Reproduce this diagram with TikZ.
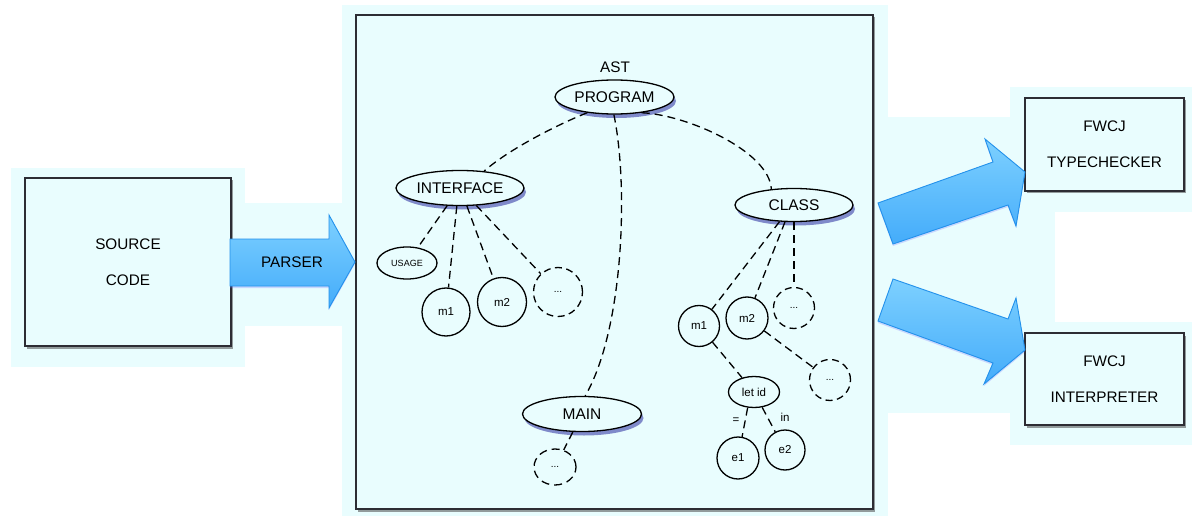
\documentclass[tikz,border=0pt]{standalone}
\usepackage{fontspec}
\setmainfont{Liberation Sans}
\usetikzlibrary{shapes.geometric,shadows}
\definecolor{bgc}{RGB}{233,253,254}
\definecolor{arrowtop}{RGB}{125,208,255}
\definecolor{arrowbot}{RGB}{68,172,250}
\definecolor{arrowedge}{RGB}{35,145,235}
\definecolor{boxline}{RGB}{45,45,52}
\tikzset{
  glow/.style={fill=bgc, draw=none},
  bigbox/.style={rectangle, draw=boxline, line width=1.4pt, fill=bgc,
    drop shadow={shadow xshift=1.5pt, shadow yshift=-2.5pt, opacity=0.55, fill=black!70},
    inner sep=0pt, align=center, font=\fontsize{15.3}{36}\selectfont},
  ell/.style={ellipse, draw=black, line width=1.3pt, fill=bgc, inner sep=0pt,
    font=\fontsize{15.5}{18}\selectfont},
  shadowell/.style={ell, drop shadow={shadow xshift=2pt, shadow yshift=-4pt, opacity=0.45, fill=blue!55!black}},
  smallell/.style={ellipse, draw=black, line width=1.3pt, fill=bgc, inner sep=0pt,
    font=\fontsize{11.5}{13}\selectfont},
  circ/.style={circle, draw=black, line width=1.3pt, fill=bgc, inner sep=0pt,
    font=\fontsize{11.5}{13}\selectfont},
  dcirc/.style={circ, dash pattern=on 7pt off 4.5pt, font=\fontsize{10}{12}\selectfont},
  treeedge/.style={line width=1.3pt, dash pattern=on 8pt off 5pt},
  lbl/.style={inner sep=0pt, font=\fontsize{15.3}{18}\selectfont},
  smalllbl/.style={inner sep=0pt, font=\fontsize{11.5}{13}\selectfont},
  bluearrow/.style={top color=arrowtop, bottom color=arrowbot, draw=arrowedge, line width=0.9pt,
    drop shadow={shadow xshift=0pt, shadow yshift=-2pt, opacity=0.25, fill=blue!60}}
}
\begin{document}
\begin{tikzpicture}[x=1pt,y=-1pt]
\useasboundingbox (0,0) rectangle (1192,516);
\fill[white] (0,0) rectangle (1192,516);
% glow areas
\fill[glow] (11,168) rectangle (245,367);
\fill[glow] (230,203) rectangle (342,326);
\fill[glow] (342,5) rectangle (888,516);
\fill[glow] (873,117) rectangle (1055,413);
\fill[glow] (1010,87) rectangle (1192,212);
\fill[glow] (1010,322) rectangle (1192,445);

% boxes
\node[bigbox, minimum width=206pt, minimum height=168pt] (src) at (128,262) {SOURCE\\CODE};
\node[bigbox, minimum width=517pt, minimum height=494pt] (ast) at (614.5,262) {};
\node[bigbox, minimum width=159pt, minimum height=93pt] (tc) at (1104.5,144.5) {FWCJ\\TYPECHECKER};
\node[bigbox, minimum width=159pt, minimum height=92pt] (interp) at (1104.5,379) {FWCJ\\INTERPRETER};

% blue arrows
\draw[bluearrow] (230,239) -- (329,239) -- (329,215) -- (355,262) -- (329,308) -- (329,286) -- (230,286) -- cycle;
\node[lbl] (parser) at (292,262) {PARSER};
\draw[bluearrow] (878,203) -- (993,162) -- (985,139) -- (1025,172) -- (1016,226) -- (1008,205) -- (893,244) -- cycle;
\draw[bluearrow] (893,279) -- (1008,319) -- (1016,298) -- (1025,350) -- (984,384) -- (993,363) -- (878,321) -- cycle;

% AST tree
\node[lbl] (astlbl) at (615,67) {AST};
\node[shadowell, minimum width=119pt, minimum height=34pt] (prog) at (614.5,97) {PROGRAM};
\node[shadowell, minimum width=128pt, minimum height=35pt] (iface) at (460,188) {INTERFACE};
\node[shadowell, minimum width=118pt, minimum height=33pt] (cls) at (794,205) {CLASS};
\node[shadowell, minimum width=119pt, minimum height=35pt] (mainn) at (582,414) {MAIN};
\node[smallell, minimum width=60pt, minimum height=32pt, font=\fontsize{9}{11}\selectfont] (usage) at (407,263) {USAGE};
\node[circ, minimum size=48pt] (im1) at (446,312) {m1};
\node[circ, minimum size=49pt] (im2) at (502,302) {m2};
\node[dcirc, minimum size=49pt] (idots) at (558,292) {...};
\node[circ, minimum size=41pt] (cm1) at (699,326) {m1};
\node[circ, minimum size=42pt] (cm2) at (747,318) {m2};
\node[dcirc, minimum size=41pt] (cdots) at (794,308) {...};
\node[dcirc, minimum size=41pt] (cdots2) at (830,380) {...};
\node[smallell, minimum width=51pt, minimum height=31pt] (letid) at (754,392) {let id};
\node[circ, minimum size=42pt] (e1) at (738,458) {e1};
\node[circ, minimum size=40pt] (e2) at (785,450) {e2};
\node[ellipse, draw=black, line width=1.3pt, fill=bgc, inner sep=0pt, dash pattern=on 8pt off 5pt,
  minimum width=42pt, minimum height=36pt, font=\fontsize{10}{12}\selectfont] (mdots) at (555,467) {...};
\node[smalllbl] (eqlbl) at (736,421) {=};
\node[smalllbl] (inlbl) at (785,417) {in};

% tree edges
\draw[treeedge] (prog.210) .. controls +(-30,12) and +(25,-22) .. (iface.35);
\draw[treeedge] (prog.330) .. controls +(45,2) and +(-2,-38) .. (cls.145);
\draw[treeedge] (prog.268) .. controls +(15,73) and +(38,-65) .. (mainn.80);
\draw[treeedge] (iface.234) -- (usage);
\draw[treeedge] (iface.260) -- (im1);
\draw[treeedge] (iface.291) -- (im2);
\draw[treeedge] (iface.313) -- (idots);
\draw[treeedge] (cls.229) -- (cm1);
\draw[treeedge] (cls.242) -- (cm2);
\draw[treeedge] (cls.270) -- (cdots);
\draw[treeedge] (cm2) -- (cdots2);
\draw[treeedge] (cm1) -- (letid);
\draw[treeedge] (letid.248) -- (e1);
\draw[treeedge] (letid.298) -- (e2);
\draw[treeedge] (mainn.243) -- (mdots);
\end{tikzpicture}
\end{document}
